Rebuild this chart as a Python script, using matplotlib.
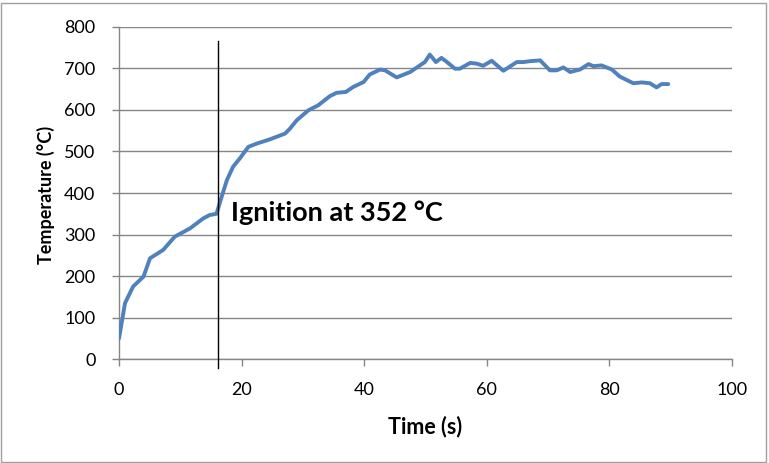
import matplotlib
matplotlib.use("Agg")
import matplotlib.pyplot as plt
from matplotlib.patches import Rectangle

time_s = [0, 0.98, 2.3, 4.0, 5.06, 7.2, 9.1, 11.6, 13.75, 14.8, 15.9, 16.75, 17.6, 18.6,
          19.7, 21.1, 22.5, 24.6, 27.1, 27.9, 29.0, 30.9, 32.5, 34.4, 35.5, 37.0, 38.2,
          39.9, 40.9, 42.6, 43.4, 45.3, 47.5, 49.1, 49.9, 50.7, 51.7, 52.6, 53.5, 54.8,
          55.6, 57.3, 58.4, 59.4, 60.8, 62.7, 64.9, 66.0, 67.0, 68.7, 70.3, 71.4, 72.5,
          73.6, 75.2, 76.6, 77.4, 78.7, 80.4, 81.7, 83.9, 85.3, 86.6, 87.7, 88.5, 89.6]
temperature_c = [50, 135, 175, 199, 243, 263, 295, 315, 339, 347, 350, 391, 431, 463,
                 483, 511, 519, 529, 543, 555, 575, 599, 611, 633, 641, 643, 655,
                 667, 685, 697, 695, 678, 691, 707, 715, 733, 715, 725, 715, 699,
                 699, 713, 711, 706, 718, 694, 715, 715, 717, 719, 695, 695, 702,
                 691, 697, 710, 705, 707, 697, 680, 664, 666, 664, 654, 662, 662]

ignition_time = 16.2
ignition_temp = 352
ignition_label = "Ignition at 352 °C"
x_ticks = [0, 20, 40, 60, 80, 100]
y_ticks = [0, 100, 200, 300, 400, 500, 600, 700, 800]

plt.rcParams['font.family'] = ['Lato', 'DejaVu Sans']

fig = plt.figure(figsize=(7.69, 4.63), dpi=100)
ax = fig.add_axes([119/769, 1 - 359.3/463, (732 - 119)/769, (359.3 - 26.7)/463])

grid_c = '#868686'
ax.plot(time_s, temperature_c, color='#4F81BD', lw=2.8, solid_capstyle='round',
        solid_joinstyle='round', zorder=3)
ax.plot([ignition_time, ignition_time], [-21, 766], color='black', lw=1.0, clip_on=False, zorder=4)
ax.text(ignition_time + 2.0, ignition_temp, ignition_label, fontsize=19.5, fontweight='bold',
        va='center', ha='left', color='black')

ax.set_xlim(0, 100)
ax.set_ylim(0, 800)
ax.set_xticks(x_ticks)
ax.set_yticks(y_ticks)
ax.yaxis.grid(True, color=grid_c, lw=1.0)
ax.set_axisbelow(True)
for s in ['top', 'right']:
    ax.spines[s].set_visible(False)
for s in ['left', 'bottom']:
    ax.spines[s].set_color(grid_c)
    ax.spines[s].set_linewidth(1.0)
ax.tick_params(axis='both', direction='out', length=5, width=1.0, color=grid_c,
               labelsize=13, labelcolor='black')
ax.tick_params(axis='y', pad=12)
ax.tick_params(axis='x', pad=11)
ax.set_xlabel('Time (s)', fontsize=15.5, fontweight='bold', va='center')
ax.set_ylabel('Temperature (°C)', fontsize=13, fontweight='bold', va='center')
ax.xaxis.set_label_coords(0.5, (359.3 - 427) / 332.6)
ax.yaxis.set_label_coords((46 - 119) / 613, (359.3 - 194.5) / 332.6)

fig.patches.append(Rectangle((1/769, 1/463), 765/769, 459/463, transform=fig.transFigure,
                             fill=False, edgecolor='#A0A0A0', lw=1.0))

fig.savefig('out.png', dpi=100)
